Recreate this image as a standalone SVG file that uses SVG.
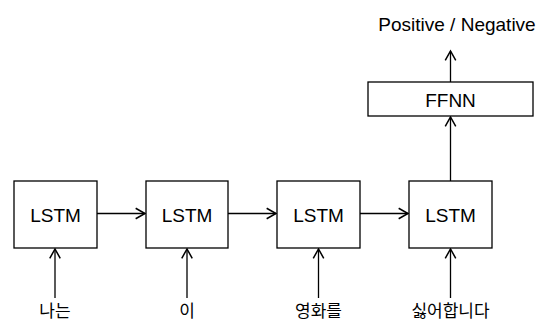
<svg xmlns="http://www.w3.org/2000/svg" width="539" height="323" viewBox="0 0 539 323">
<defs>
<style>
.box{fill:#fff;stroke:#000;stroke-width:1.3}
.lbl{font-family:"Liberation Sans",Arial,sans-serif;font-size:19px;fill:#000;text-anchor:middle}
.kr{font-family:"Noto Sans CJK KR","Noto Sans",sans-serif;font-size:17px;fill:#000;text-anchor:middle}
.edge{fill:none;stroke:#000;stroke-width:1.3;marker-end:url(#arr)}
</style>
<marker id="arr" markerUnits="userSpaceOnUse" markerWidth="14" markerHeight="14" refX="9" refY="6" orient="auto" viewBox="0 0 12 12">
<path d="M1,1.5 L9,6 L1,10.5" fill="none" stroke="#000" stroke-width="1.3"/>
</marker>
</defs>
<rect width="539" height="323" fill="#fff"/>
<g id="connectors">
<path class="edge" d="M97,213.5 H145"/>
<path class="edge" d="M228,213.5 H276"/>
<path class="edge" d="M360,213.5 H408"/>
<path class="edge" d="M55,298 V249"/>
<path class="edge" d="M187,298 V249"/>
<path class="edge" d="M318.5,298 V249"/>
<path class="edge" d="M450.5,298 V249"/>
<path class="edge" d="M450.5,181 V117"/>
<path class="edge" d="M450.5,82 V51"/>
</g>
<g id="lstm1"><rect class="box" x="14" y="181" width="83" height="67"/><text class="lbl" x="55.5" y="221.5">LSTM</text></g>
<g id="lstm2"><rect class="box" x="146" y="181" width="82" height="67"/><text class="lbl" x="187" y="221.5">LSTM</text></g>
<g id="lstm3"><rect class="box" x="277" y="181" width="83" height="67"/><text class="lbl" x="318.5" y="221.5">LSTM</text></g>
<g id="lstm4"><rect class="box" x="409" y="181" width="83" height="67"/><text class="lbl" x="450.5" y="221.5">LSTM</text></g>
<g id="ffnn"><rect class="box" x="368" y="82" width="165" height="34"/><text class="lbl" x="450.5" y="106.5">FFNN</text></g>
<g id="output"><text class="lbl" x="457" y="30.5">Positive / Negative</text></g>
<g id="in1"><text class="kr" x="55" y="317">나는</text></g>
<g id="in2"><text class="kr" x="187" y="317">이</text></g>
<g id="in3"><text class="kr" x="318.5" y="317">영화를</text></g>
<g id="in4"><text class="kr" x="450.5" y="317">싫어합니다</text></g>
</svg>
